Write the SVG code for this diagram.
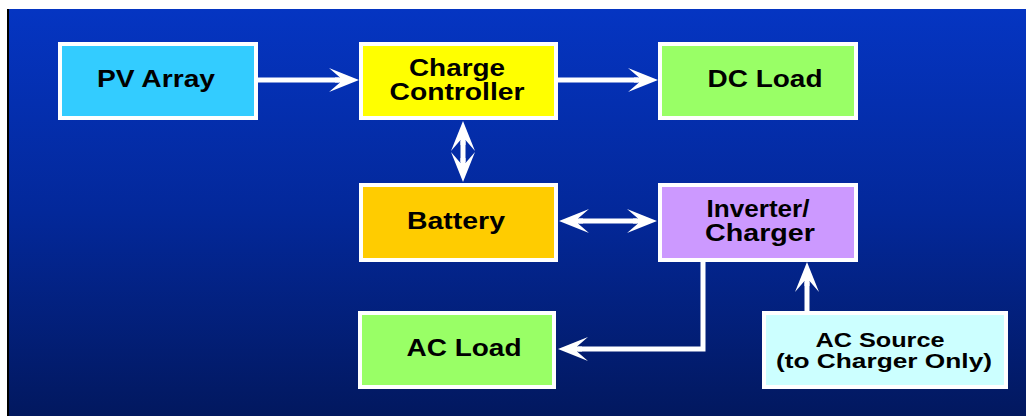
<svg xmlns="http://www.w3.org/2000/svg" width="1026" height="416" viewBox="0 0 1026 416">
<style>
.box{stroke:#ffffff;stroke-width:4}
.lbl{font-family:"Liberation Sans",Arial,sans-serif;font-weight:bold;font-size:23px;fill:#000;text-anchor:middle}
.sm{font-size:20px}
.con{fill:none;stroke:#ffffff;stroke-width:5}
</style>
<defs>
<linearGradient id="bg" x1="0" y1="0" x2="0" y2="1">
<stop offset="0" stop-color="#0535c2"/>
<stop offset="0.5" stop-color="#03289a"/>
<stop offset="1" stop-color="#02185f"/>
</linearGradient>
<marker id="ah" markerUnits="userSpaceOnUse" viewBox="-32 -14 34 28" markerWidth="34" markerHeight="28" refX="-20" refY="0" orient="auto-start-reverse">
<path d="M0,0 L-30,-12 L-19,-2.5 L-24,-2.5 L-24,2.5 L-19,2.5 L-30,12 Z" fill="#ffffff"/>
</marker>
</defs>
<rect x="0" y="0" width="1026" height="416" fill="#ffffff"/>
<rect x="9" y="9" width="1017" height="407" fill="url(#bg)"/>
<line x1="8" y1="9" x2="8" y2="416" stroke="#000" stroke-width="2"/>
<g id="connectors">
<line class="con" x1="258" y1="80" x2="339" y2="80" marker-end="url(#ah)"/>
<line class="con" x1="558" y1="80" x2="638" y2="80" marker-end="url(#ah)"/>
<line class="con" x1="463" y1="141" x2="463" y2="162" marker-start="url(#ah)" marker-end="url(#ah)"/>
<line class="con" x1="579" y1="221" x2="637" y2="221" marker-start="url(#ah)" marker-end="url(#ah)"/>
<path class="con" d="M703,262 V349 H578" marker-end="url(#ah)"/>
<line class="con" x1="807" y1="311" x2="807" y2="282" marker-end="url(#ah)"/>
</g>
<g id="pv-array">
<rect class="box" x="60" y="44" width="196" height="74" fill="#33ccff"/>
<text class="lbl" x="156" y="87" textLength="118" lengthAdjust="spacingAndGlyphs">PV Array</text>
</g>
<g id="charge-controller">
<rect class="box" x="361" y="44" width="195" height="74" fill="#ffff00"/>
<text class="lbl" x="457" y="76" textLength="96" lengthAdjust="spacingAndGlyphs">Charge</text>
<text class="lbl" x="457" y="100" textLength="135" lengthAdjust="spacingAndGlyphs">Controller</text>
</g>
<g id="dc-load">
<rect class="box" x="660" y="44" width="196" height="74" fill="#99ff66"/>
<text class="lbl" x="765" y="87" textLength="115" lengthAdjust="spacingAndGlyphs">DC Load</text>
</g>
<g id="battery">
<rect class="box" x="361" y="185" width="195" height="75" fill="#ffcc00"/>
<text class="lbl" x="456" y="229" textLength="98" lengthAdjust="spacingAndGlyphs">Battery</text>
</g>
<g id="inverter-charger">
<rect class="box" x="660" y="185" width="196" height="75" fill="#cc99ff"/>
<text class="lbl" x="758" y="217" textLength="103" lengthAdjust="spacingAndGlyphs">Inverter/</text>
<text class="lbl" x="760" y="241" textLength="110" lengthAdjust="spacingAndGlyphs">Charger</text>
</g>
<g id="ac-load">
<rect class="box" x="360" y="313" width="194" height="74" fill="#99ff66"/>
<text class="lbl" x="464" y="356" textLength="115" lengthAdjust="spacingAndGlyphs">AC Load</text>
</g>
<g id="ac-source">
<rect class="box" x="764" y="313" width="242" height="74" fill="#ccffff"/>
<text class="lbl sm" x="880" y="347" textLength="129" lengthAdjust="spacingAndGlyphs">AC Source</text>
<text class="lbl sm" x="884" y="368" textLength="216" lengthAdjust="spacingAndGlyphs">(to Charger Only)</text>
</g>
</svg>
